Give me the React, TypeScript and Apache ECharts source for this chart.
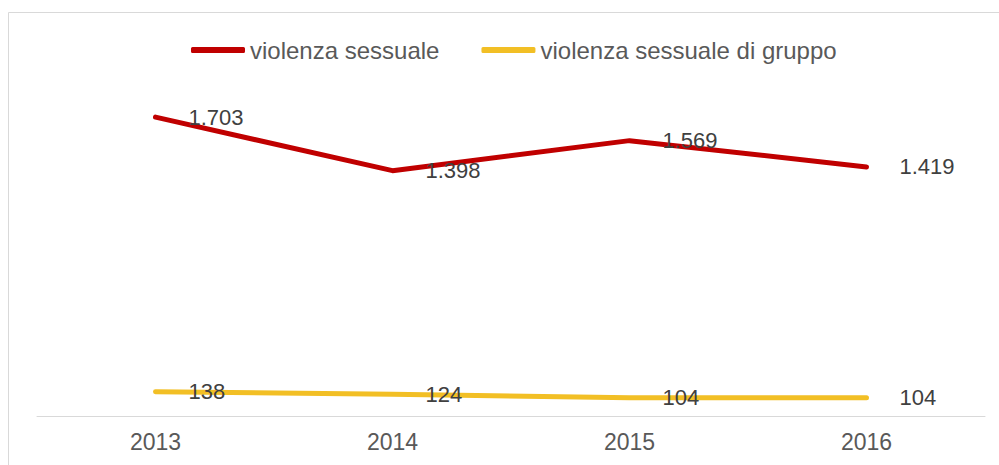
import React, { useEffect, useRef } from "react";
import * as echarts from "echarts";

const categories = ["2013", "2014", "2015", "2016"];
const violenzaSessuale = [1703, 1398, 1569, 1419];
const violenzaGruppo = [138, 124, 104, 104];
const seriesNames = ["violenza sessuale", "violenza sessuale di gruppo"];

const fmt = (v: number) => {
  const s = String(Math.round(v));
  return s.replace(/\B(?=(\d{3})+(?!\d))/g, ".");
};

export default function App() {
  const ref = useRef<HTMLDivElement>(null);
  useEffect(() => {
    if (!ref.current) return;
    const chart = echarts.init(ref.current, undefined, { renderer: "svg" });
    const font = "'Liberation Sans', Arial, sans-serif";
    const label = {
      show: true,
      position: "right" as const,
      distance: 32,
      color: "#404040",
      fontSize: 22,
      fontFamily: font,
      formatter: (p: any) => fmt(p.value),
    };
    chart.setOption({
      animation: false,
      backgroundColor: "#ffffff",
      graphic: [
        {
          type: "rect",
          shape: { x: 8.5, y: 12.5, width: 1000, height: 470 },
          style: { fill: "none", stroke: "#d9d9d9", lineWidth: 1 },
          silent: true,
        },
      ],
      legend: {
        top: 33,
        left: 186,
        itemWidth: 54,
        itemHeight: 6,
        itemGap: 42,
        icon: "roundRect",
        textStyle: { color: "#595959", fontSize: 24, fontFamily: font },
        data: seriesNames,
      },
      grid: { left: 37, right: 14, top: 65, bottom: 49 },
      xAxis: {
        type: "category",
        data: categories,
        boundaryGap: true,
        axisLine: { lineStyle: { color: "#d9d9d9", width: 1 } },
        axisTick: { show: false },
        axisLabel: { color: "#595959", fontSize: 23, fontFamily: font, margin: 14 },
      },
      yAxis: {
        type: "value",
        min: 0,
        max: 2000,
        show: false,
        splitLine: { show: false },
      },
      series: [
        {
          name: seriesNames[0],
          type: "line",
          data: violenzaSessuale,
          symbol: "circle",
          symbolSize: 2,
          itemStyle: { color: "#c00000" },
          lineStyle: { color: "#c00000", width: 5, cap: "round", join: "round" },
          label,
        },
        {
          name: seriesNames[1],
          type: "line",
          data: violenzaGruppo,
          symbol: "circle",
          symbolSize: 2,
          itemStyle: { color: "#f2bf25" },
          lineStyle: { color: "#f2bf25", width: 5, cap: "round", join: "round" },
          label,
        },
      ],
    });
    return () => chart.dispose();
  }, []);
  return (
    <div
      ref={ref}
      style={{ position: "fixed", left: 0, top: 0, width: 999, height: 465 }}
    />
  );
}
